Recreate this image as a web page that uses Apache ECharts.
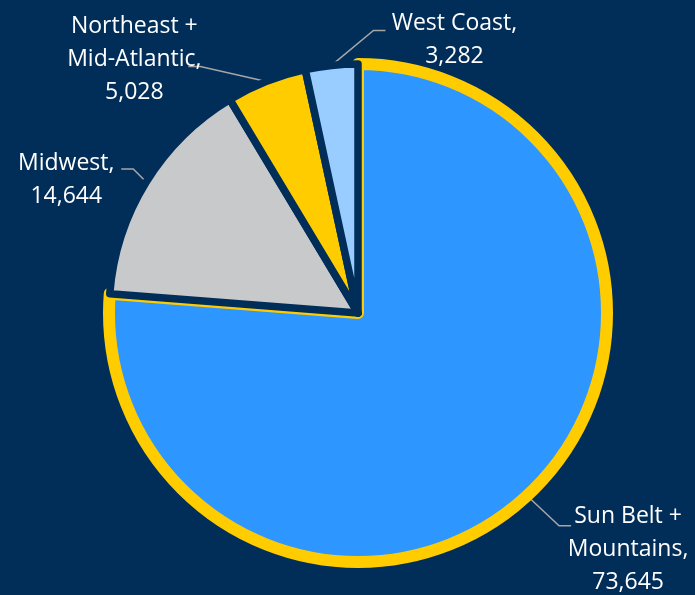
<!DOCTYPE html>
<html>
<head>
<meta charset="utf-8">
<script src="https://cdn.jsdelivr.net/npm/echarts@6/dist/echarts.min.js"></script>
<style>
  html, body { margin: 0; padding: 0; background: #012E59; }
  #chart { width: 695px; height: 595px; }
</style>
</head>
<body>
<div id="chart"></div>
<script>
// Regional totals
const regions = ['Sun Belt +\nMountains', 'Midwest', 'Northeast +\nMid-Atlantic', 'West Coast'];
const totals = [73645, 14644, 5028, 3282];

// Slice fills and borders
const fills = ['#2E96FF', '#C8C9CB', '#FFCC00', '#99CCFF'];
const borders = ['#FFCC00', '#012E59', '#012E59', '#012E59'];
const borderWidths = [12, 7.5, 7.5, 7.5];

// Callout geometry, relative to the point where each leader leaves its slice
const callouts = [
  { elbow: [32, 30], end: [44, 30], text: [101, 54] },
  { elbow: [-13, -13], end: [-25, -13], text: [-80, -2] },
  { elbow: [-66, -15], end: [-78, -15], text: [-132, -22] },
  { elbow: [42, -35], end: [54, -35], text: [123, -25] }
];

const fmt = v => v.toLocaleString('en-US');

const chart = echarts.init(document.getElementById('chart'), null, { renderer: 'canvas' });
chart.setOption({
  backgroundColor: '#012E59',
  animation: false,
  series: [{
    type: 'pie',
    center: [358, 313],
    radius: 249,
    startAngle: 90,
    clockwise: true,
    avoidLabelOverlap: false,
    emphasis: { disabled: true },
    data: regions.map((name, i) => ({
      name,
      value: totals[i],
      itemStyle: {
        color: fills[i],
        borderColor: borders[i],
        borderWidth: borderWidths[i],
        borderJoin: 'round'
      }
    })),
    label: {
      show: true,
      position: 'outside',
      color: '#FFFFFF',
      fontFamily: 'Open Sans',
      fontSize: 23,
      lineHeight: 33,
      formatter: p => p.name + ',\n' + fmt(p.value)
    },
    labelLine: {
      show: true,
      length: 20,
      length2: 10,
      lineStyle: { color: '#A6A6A6', width: 1.5 }
    },
    labelLayout: params => {
      const c = callouts[params.dataIndex];
      const a = params.labelLinePoints[0];
      return {
        x: a[0] + c.text[0],
        y: a[1] + c.text[1],
        align: 'center',
        verticalAlign: 'middle',
        labelLinePoints: [
          [a[0], a[1]],
          [a[0] + c.elbow[0], a[1] + c.elbow[1]],
          [a[0] + c.end[0], a[1] + c.end[1]]
        ]
      };
    }
  }]
});
</script>
</body>
</html>
